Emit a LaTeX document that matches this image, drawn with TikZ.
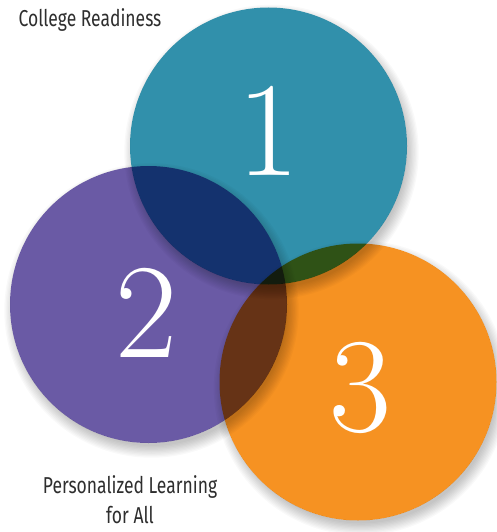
\documentclass[tikz,border=0pt]{standalone}
\usepackage{fontspec}
\newfontfamily\labelfont[FakeStretch=0.76]{Fira Sans}
\usetikzlibrary{positioning}
\definecolor{discteal}{HTML}{3190AB}
\definecolor{discpurple}{HTML}{6A5AA5}
\definecolor{discorange}{HTML}{F69222}
\definecolor{labelgray}{HTML}{2E2E2E}
% soft shadow of a disc, kept outside the disc itself
\newcommand{\discshadow}[3]{%
  \begin{scope}[even odd rule]
    \clip (-20,-20) rectangle (520,560) (#1,#2) circle (#3);
    \foreach \k in {0,...,9}
      \fill[black, opacity=0.022] (#1+3,#2+6) circle (#3-3+\k*1.3);
  \end{scope}}
\begin{document}
\begin{tikzpicture}[x=1pt, y=-1pt,
    disc/.style = {circle, inner sep=0pt, minimum size=277pt},
    digit/.style = {text=white, inner sep=0pt, font=\fontsize{135}{135}\selectfont},
    caption/.style = {text=labelgray, inner sep=0pt, align=center,
      font=\labelfont\fontsize{23}{30}\selectfont}]
  \useasboundingbox (0,0) rectangle (496,532);
  \fill[white] (0,0) rectangle (496,532);
  \begin{scope}[blend mode=multiply]
    \discshadow{358}{382}{138.5}
    \node[disc, fill=discorange] (c3) at (358,382) {};
    \discshadow{148.5}{304.5}{138.5}
    \node[disc, fill=discpurple] (c2) at (148.5,304.5) {};
    \discshadow{268.5}{146}{138.5}
    \node[disc, fill=discteal] (c1) at (268.5,146) {};
  \end{scope}
  \node[digit] (d1) at (268,131) {1};
  \node[digit] (d2) at (146,313) {2};
  \node[digit] (d3) at (360,387.5) {3};
  \node[caption, anchor=base] (readiness) at (90,27) {College Readiness};
  \node[caption, anchor=north] (learning) at (130,475) {Personalized Learning\\for All};
\end{tikzpicture}
\end{document}
